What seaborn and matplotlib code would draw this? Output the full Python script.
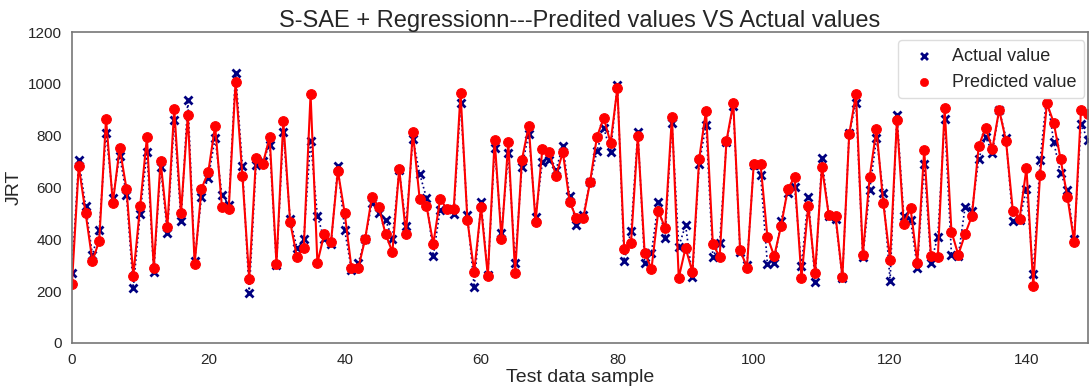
import numpy as np
import pandas as pd
import matplotlib
matplotlib.use('Agg')
import matplotlib.pyplot as plt
import seaborn as sns

actual = [
    270, 707, 530, 340, 436, 811, 560, 722, 571, 212,
    498, 737, 274, 680, 425, 861, 471, 938, 317, 564,
    637, 791, 571, 533, 1043, 683, 193, 687, 703, 764,
    300, 815, 479, 367, 401, 780, 490, 401, 380, 684,
    436, 282, 308, 401, 540, 502, 475, 401, 668, 452,
    788, 653, 560, 336, 515, 517, 498, 926, 494, 216,
    544, 263, 753, 425, 733, 309, 680, 807, 486, 699,
    707, 668, 761, 567, 455, 494, 622, 741, 830, 737,
    996, 317, 432, 815, 309, 348, 544, 405, 849, 371,
    455, 255, 691, 842, 332, 386, 775, 915, 350, 300,
    685, 650, 305, 310, 470, 580, 600, 295, 565, 235,
    715, 490, 480, 250, 810, 925, 330, 590, 790, 580,
    240, 880, 490, 475, 290, 690, 310, 410, 865, 340,
    335, 525, 510, 710, 795, 735, 900, 790, 470, 475,
    595, 265, 705, 960, 775, 655, 590, 400, 845, 785,
]
predicted = [
    228, 683, 502, 317, 394, 865, 540, 753, 595, 259,
    529, 795, 289, 703, 448, 903, 502, 880, 305, 595,
    660, 838, 525, 517, 1008, 645, 247, 714, 691, 795,
    305, 857, 467, 332, 367, 961, 309, 420, 390, 664,
    502, 289, 289, 401, 564, 525, 420, 351, 672, 420,
    815, 556, 529, 382, 556, 517, 517, 965, 475, 274,
    525, 259, 784, 401, 776, 270, 707, 838, 467, 749,
    737, 645, 737, 544, 482, 482, 622, 795, 869, 772,
    984, 363, 386, 799, 348, 286, 510, 444, 873, 251,
    367, 274, 711, 896, 382, 332, 780, 925, 360, 290,
    690, 690, 410, 335, 450, 595, 640, 250, 530, 270,
    680, 495, 490, 255, 805, 960, 340, 640, 825, 540,
    320, 860, 460, 520, 310, 745, 335, 330, 905, 430,
    340, 420, 490, 760, 830, 750, 900, 780, 510, 480,
    675, 220, 650, 925, 850, 710, 565, 390, 900, 885,
]
sample = np.arange(len(actual))

df = pd.DataFrame({'sample': sample, 'actual': actual, 'predicted': predicted})

sns.set_style('white')
plt.rcParams['font.family'] = ['Liberation Sans', 'DejaVu Sans']

fig = plt.figure(figsize=(10.9, 3.91), dpi=100)
ax = fig.add_axes([0.066, 0.123, 0.932, 0.795])

# Linien
sns.lineplot(data=df, x='sample', y='actual', ax=ax, color='navy',
             linestyle=':', linewidth=1.2, marker='x', markersize=6,
             markeredgewidth=2, markeredgecolor='navy')
sns.lineplot(data=df, x='sample', y='predicted', ax=ax, color='red',
             linewidth=1.5, marker='o', markersize=7,
             markeredgecolor='red')

# Legende nur mit Markern
sns.scatterplot(x=[-100], y=[-100], ax=ax, marker='x', color='navy',
                linewidth=2, s=25, label='Actual value')
sns.scatterplot(x=[-100], y=[-100], ax=ax, marker='o', color='red',
                edgecolor='red', s=35, label='Predicted value')

ax.set_xlim(0, 149)
ax.set_ylim(0, 1200)
ax.set_xticks(range(0, 141, 20))
ax.set_yticks(range(0, 1201, 200))
ax.tick_params(labelsize=11)
ax.set_xlabel('Test data sample', fontsize=14, labelpad=2)
ax.set_ylabel('JRT', fontsize=14)
ax.set_title('S-SAE + Regressionn---Predited values VS Actual values',
             fontsize=17, pad=4)
for sp in ax.spines.values():
    sp.set_color('#777777')
    sp.set_linewidth(1.2)

ax.legend(loc='upper right', fontsize=13, frameon=True, framealpha=1,
          edgecolor='#dddddd', handletextpad=0.6, borderpad=0.4,
          borderaxespad=0.2, bbox_to_anchor=(1.0, 0.985))

fig.savefig('out.png', dpi=100)
